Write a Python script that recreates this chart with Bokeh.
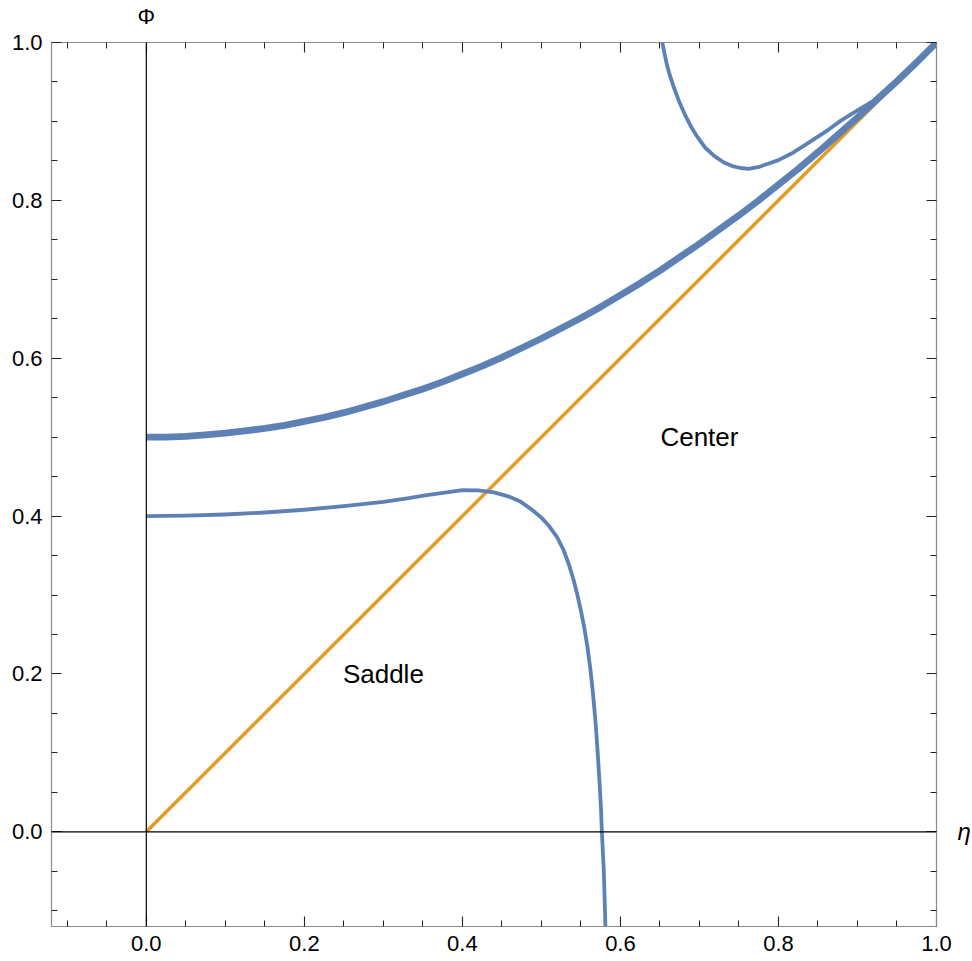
from bokeh.plotting import figure
from bokeh.models import (Range1d, FixedTicker, LinearAxis, Span,
                          CustomJSTickFormatter, NumeralTickFormatter)
from bokeh.core.properties import value
from bokeh.embed import file_html
from bokeh.resources import INLINE

# ---------------- data ----------------
# thick separatrix
sep_eta = [0.000, 0.025, 0.050, 0.075, 0.100, 0.125, 0.150, 0.175, 0.200, 0.225,
           0.250, 0.275, 0.300, 0.325, 0.350, 0.375, 0.400, 0.425, 0.450, 0.475,
           0.500, 0.525, 0.550, 0.575, 0.600, 0.625, 0.650, 0.675, 0.700, 0.725,
           0.750, 0.775, 0.800, 0.825, 0.850, 0.875, 0.900, 0.925, 0.950, 0.975, 1.000]
sep_phi = [0.500, 0.500, 0.501, 0.503, 0.505, 0.508, 0.511, 0.515, 0.520, 0.525,
           0.531, 0.538, 0.545, 0.553, 0.561, 0.570, 0.580, 0.590, 0.601, 0.613,
           0.625, 0.638, 0.651, 0.665, 0.680, 0.695, 0.711, 0.728, 0.745, 0.763,
           0.781, 0.800, 0.820, 0.840, 0.861, 0.883, 0.905, 0.928, 0.951, 0.975, 1.000]

# lower thin orbit (starts at Phi = 0.4)
low_eta = [0.000, 0.050, 0.100, 0.150, 0.200, 0.250, 0.300, 0.330, 0.355, 0.380,
           0.400, 0.420, 0.440, 0.458, 0.474, 0.488, 0.500, 0.510, 0.520, 0.528,
           0.535, 0.541, 0.546, 0.550, 0.554, 0.558, 0.562, 0.565, 0.568, 0.570,
           0.572, 0.574, 0.5755, 0.5765, 0.579, 0.581]
low_phi = [0.400, 0.4005, 0.402, 0.4045, 0.408, 0.4125, 0.418, 0.4225, 0.4265, 0.430,
           0.433, 0.4325, 0.430, 0.425, 0.418, 0.408, 0.398, 0.387, 0.373, 0.357,
           0.338, 0.318, 0.298, 0.280, 0.260, 0.236, 0.206, 0.178, 0.145, 0.118,
           0.088, 0.055, 0.027, 0.000, -0.050, -0.120]

# upper thin orbit (enters from the top)
up_eta = [0.653, 0.656, 0.659, 0.663, 0.668, 0.674, 0.681, 0.689, 0.697, 0.707,
          0.719, 0.731, 0.743, 0.752, 0.762, 0.774, 0.786, 0.800, 0.816, 0.832,
          0.849, 0.864, 0.879, 0.900, 0.920, 0.950, 1.000]
up_phi = [1.000, 0.985, 0.971, 0.957, 0.942, 0.926, 0.910, 0.894, 0.881, 0.867,
          0.856, 0.848, 0.843, 0.841, 0.840, 0.842, 0.846, 0.851, 0.859, 0.869,
          0.880, 0.890, 0.901, 0.914, 0.926, 0.953, 1.000]

# diagonal Phi = eta
diag_eta = [0.0, 1.0]
diag_phi = [0.0, 1.0]

major_ticks = [0.0, 0.2, 0.4, 0.6, 0.8, 1.0]
minor_ticks = [-0.10, -0.05, 0.05, 0.10, 0.15, 0.25, 0.30, 0.35, 0.45, 0.50, 0.55,
               0.65, 0.70, 0.75, 0.85, 0.90, 0.95]

region_labels = ["Center", "Saddle"]
region_eta = [0.70, 0.30]
region_phi = [0.50, 0.20]

x_name = "η"
y_name = "Φ"

# ---------------- styling ----------------
BLUE = "#5E81B5"
ORANGE = "#E19C24"
FRAME = "#8a8a8a"
FONT = "Liberation Sans"

p = figure(frame_width=885, frame_height=884,
           x_range=Range1d(-0.12, 1.0), y_range=Range1d(-0.12, 1.0),
           output_backend="svg", toolbar_location=None,
           min_border_left=51, min_border_right=0, min_border_top=0,
           min_border_bottom=34, x_axis_location=None, y_axis_location=None)
p.background_fill_color = "white"
p.border_fill_color = "white"
p.outline_line_color = FRAME
p.grid.visible = False

ticker = FixedTicker(ticks=major_ticks, minor_ticks=minor_ticks)


def style_axis(ax, labels):
    ax.ticker = ticker
    ax.axis_line_color = FRAME
    ax.axis_line_width = 1.2
    ax.major_tick_in = 10
    ax.major_tick_out = 0
    ax.minor_tick_in = 6
    ax.minor_tick_out = 0
    ax.major_tick_line_color = "#222222"
    ax.minor_tick_line_color = "#222222"
    ax.major_tick_line_width = 1.1
    ax.minor_tick_line_width = 1.0
    if labels:
        ax.formatter = NumeralTickFormatter(format="0.0")
        ax.major_label_text_font = FONT
        ax.major_label_text_font_size = "22px"
        ax.major_label_text_color = "black"
        ax.major_label_standoff = 9
    else:
        ax.formatter = CustomJSTickFormatter(code="return ''")
        ax.major_label_standoff = 0
        ax.major_label_text_font_size = "1px"


def name_axis(ax, name, standoff, size, style):
    # an axis that only carries the variable name at the origin tick
    ax.ticker = FixedTicker(ticks=[0.0], minor_ticks=[])
    ax.formatter = CustomJSTickFormatter(code="return '%s'" % name)
    ax.axis_line_color = None
    ax.major_tick_line_color = None
    ax.minor_tick_line_color = None
    ax.major_tick_in = 0
    ax.major_tick_out = 0
    ax.major_label_standoff = standoff
    ax.major_label_text_font = FONT
    ax.major_label_text_font_size = size
    ax.major_label_text_font_style = style
    ax.major_label_text_color = "black"


bx = LinearAxis(); style_axis(bx, True); p.add_layout(bx, "below")
ly = LinearAxis(); style_axis(ly, True); p.add_layout(ly, "left")
tx = LinearAxis(); style_axis(tx, False); p.add_layout(tx, "above")
ry = LinearAxis(); style_axis(ry, False); p.add_layout(ry, "right")

tname = LinearAxis(); name_axis(tname, y_name, 14, "22px", "normal")
p.add_layout(tname, "above")
rname = LinearAxis(); name_axis(rname, x_name, 21, "24px", "italic")
p.add_layout(rname, "right")

# axes through the origin
p.add_layout(Span(location=0, dimension="width", line_color="black", line_width=1.2))
p.add_layout(Span(location=0, dimension="height", line_color="black", line_width=1.2))

# curves
p.line(diag_eta, diag_phi, line_color=ORANGE, line_width=3.5)
p.line(low_eta, low_phi, line_color=BLUE, line_width=3.8, line_join="round")
p.line(up_eta, up_phi, line_color=BLUE, line_width=3.8, line_join="round")
p.line(sep_eta, sep_phi, line_color=BLUE, line_width=6.8, line_join="round")

# region labels
p.text(x=region_eta, y=region_phi, text=region_labels, text_align="center",
       text_baseline="middle", text_font=value(FONT), text_font_size="26px",
       text_color="black")

open("out.html", "w").write(file_html(p, INLINE))
